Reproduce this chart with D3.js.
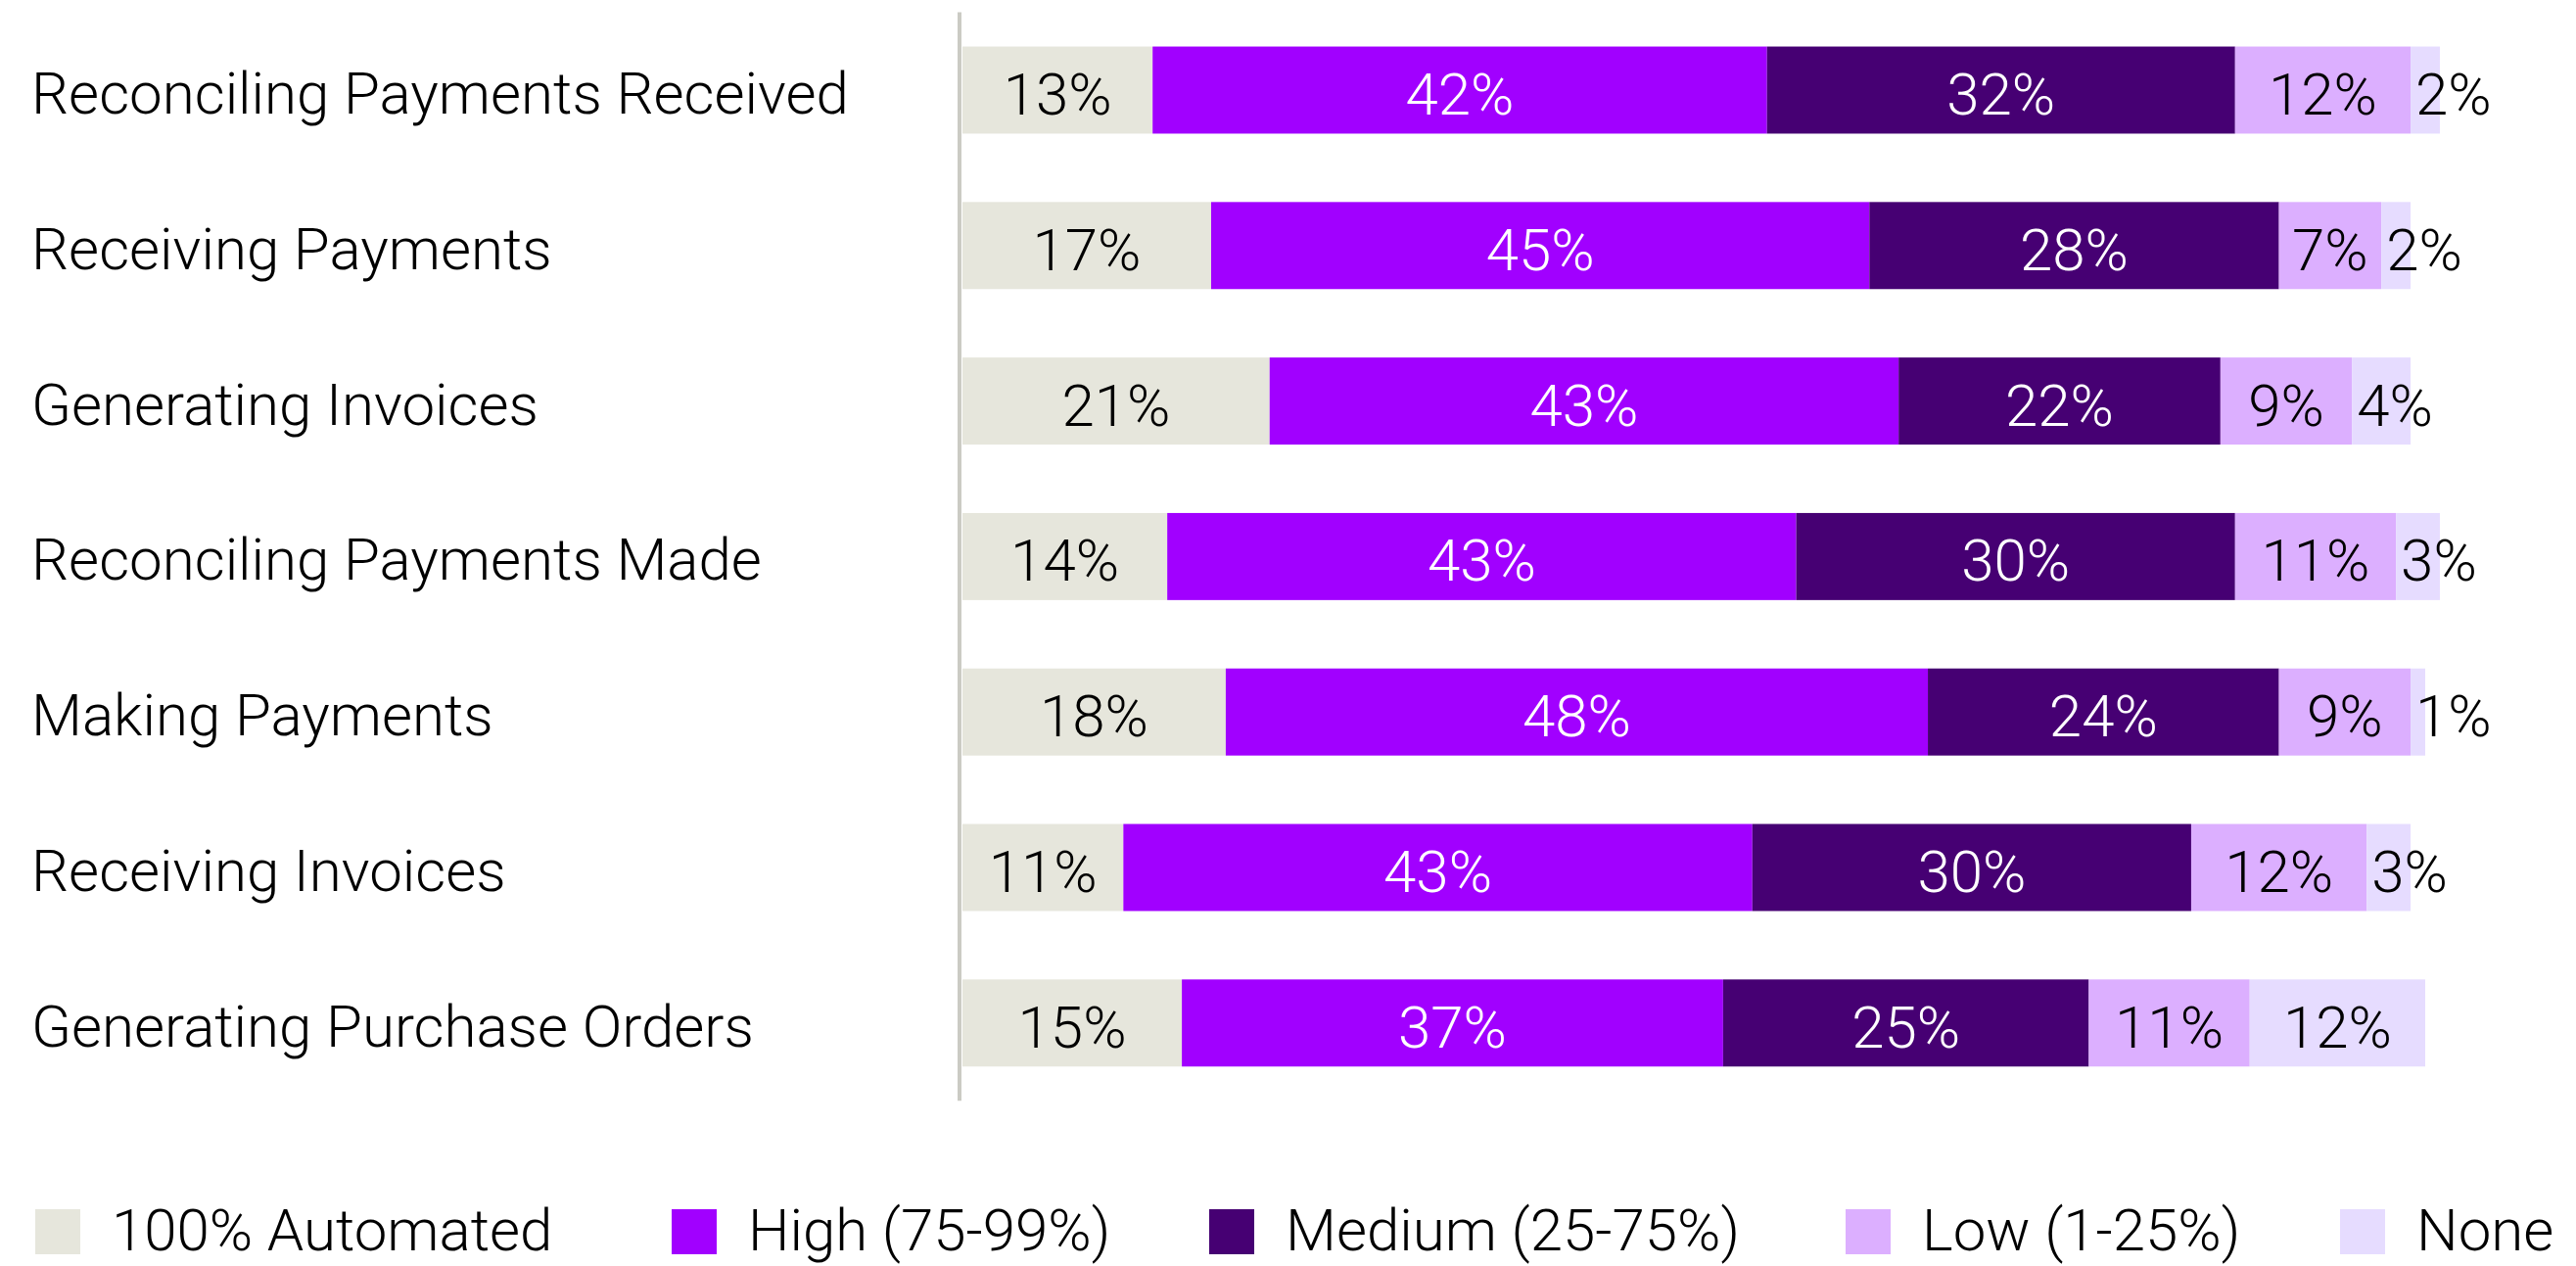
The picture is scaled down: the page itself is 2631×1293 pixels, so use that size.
<!DOCTYPE html>
<html>
<head>
<meta charset="utf-8">
<script src="https://cdn.jsdelivr.net/npm/d3@7.9.0/dist/d3.min.js"></script>
<style>
  html, body { margin: 0; padding: 0; background: #fff; }
  svg { display: block; font-family: Roboto, 'Noto Sans', sans-serif; font-weight: 300; }
</style>
</head>
<body>
<svg id="chart"></svg>
<script>
const categories = [
  'Reconciling Payments Received',
  'Receiving Payments',
  'Generating Invoices',
  'Reconciling Payments Made',
  'Making Payments',
  'Receiving Invoices',
  'Generating Purchase Orders'
];
const levels = ['100% Automated', 'High (75-99%)', 'Medium (25-75%)', 'Low (1-25%)', 'None'];
const automated = [13, 17, 21, 14, 18, 11, 15];
const high = [42, 45, 43, 43, 48, 43, 37];
const medium = [32, 28, 22, 30, 24, 30, 25];
const low = [12, 7, 9, 11, 9, 12, 11];
const none = [2, 2, 4, 3, 1, 3, 12];

const colors = ['#e6e6dc', '#a100ff', '#460073', '#dcafff', '#e6dcff'];
const labelColors = ['#000', '#fff', '#fff', '#000', '#000'];

const width = 2631;
const height = 1293;
const fontSize = 60;

const series = [automated, high, medium, low, none];
const rows = categories.map((c, i) => {
  const row = { category: c };
  levels.forEach((k, j) => { row[k] = series[j][i]; });
  return row;
});

const stacked = d3.stack().keys(levels)(rows);

const svg = d3.select('#chart')
  .attr('width', width)
  .attr('height', height)
  .attr('viewBox', `0 0 ${width} ${height}`);

const xScale = d3.scaleLinear().domain([0, 100]).range([983, 2477]);
const yScale = d3.scaleBand()
  .domain(categories)
  .range([12.6, 1124.2])
  .paddingInner(0.44)
  .paddingOuter(0.22);

// category labels
svg.append('g')
  .selectAll('text')
  .data(categories)
  .join('text')
  .attr('x', 32)
  .attr('y', d => yScale(d) + yScale.bandwidth() / 2 + 24)
  .attr('font-size', fontSize)
  .attr('fill', '#000')
  .text(d => d);

// bars
const layers = svg.append('g')
  .selectAll('g')
  .data(stacked)
  .join('g')
  .attr('fill', (d, i) => colors[i]);

layers.selectAll('rect')
  .data(d => d)
  .join('rect')
  .attr('x', d => xScale(d[0]))
  .attr('y', d => yScale(d.data.category))
  .attr('width', d => xScale(d[1]) - xScale(d[0]))
  .attr('height', yScale.bandwidth());

// value labels: centred, or just after the segment start if they don't fit
stacked.forEach((layer, i) => {
  const g = svg.append('g');
  layer.forEach(d => {
    const x0 = xScale(d[0]);
    const x1 = xScale(d[1]);
    const t = g.append('text')
      .attr('y', yScale(d.data.category) + yScale.bandwidth() / 2 + 25)
      .attr('font-size', fontSize)
      .attr('fill', labelColors[i])
      .text((d[1] - d[0]) + '%');
    const w = t.node().getComputedTextLength();
    if (w + 10 > x1 - x0) {
      t.attr('x', x0 + 5).attr('text-anchor', 'start').attr('fill', '#000');
    } else {
      t.attr('x', (x0 + x1) / 2).attr('text-anchor', 'middle');
    }
  });
});

// axis line
svg.append('line')
  .attr('x1', 980).attr('x2', 980)
  .attr('y1', yScale.range()[0])
  .attr('y2', yScale.range()[1])
  .attr('stroke', '#cbcbc4')
  .attr('stroke-width', 4);

// legend
const legendX = [36, 686, 1235, 1885, 2390];
const legend = svg.append('g')
  .selectAll('g')
  .data(levels)
  .join('g')
  .attr('transform', (d, i) => `translate(${legendX[i]}, 1235)`);

legend.append('rect')
  .attr('width', 46)
  .attr('height', 46)
  .attr('fill', (d, i) => colors[i]);

legend.append('text')
  .attr('x', 78)
  .attr('y', 42)
  .attr('font-size', fontSize)
  .attr('fill', '#000')
  .text(d => d);
</script>
</body>
</html>
